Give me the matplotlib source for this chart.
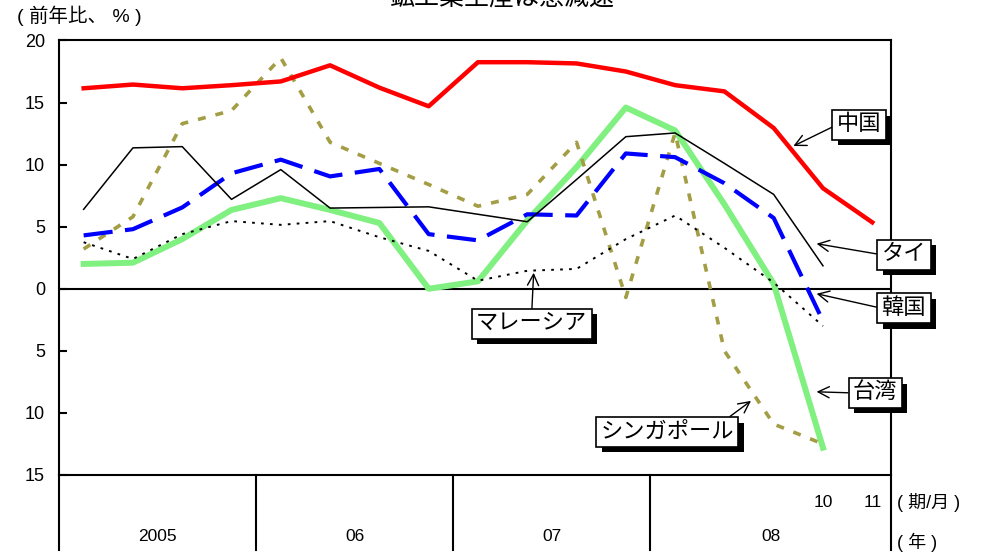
import matplotlib
matplotlib.use("Agg")
import matplotlib.pyplot as plt
import matplotlib.patheffects as pe

plt.rcParams['font.family'] = ['Liberation Sans', 'Noto Sans CJK JP']

# 2005Q1 ... 2008Q3 (quarterly), then Oct, Nov 2008 (monthly)
periods = ['05Q1', '05Q2', '05Q3', '05Q4', '06Q1', '06Q2', '06Q3', '06Q4',
           '07Q1', '07Q2', '07Q3', '07Q4', '08Q1', '08Q2', '08Q3', '08/10', '08/11']
years = ['2005', '06', '07', '08']
year_starts = [0, 4, 8, 12]
month_labels = ['10', '11']
month_idx = [15, 16]

china = [16.15, 16.45, 16.15, 16.4, 16.7, 18.0, 16.2, 14.7, 18.25, 18.25, 18.15,
         17.5, 16.4, 15.9, 12.95, 8.1, 5.35]
thai = [6.4, 11.35, 11.45, 7.2, 9.6, 6.5, 6.55, 6.6, 6.0, 5.4, 8.8, 12.25, 12.55,
        10.1, 7.6, 1.85]
korea = [4.3, 4.8, 6.55, 9.3, 10.4, 9.05, 9.65, 4.4, 3.9, 6.0, 5.9, 10.9, 10.6,
         8.5, 5.7, -2.6]
taiwan = [2.0, 2.1, 4.0, 6.35, 7.3, 6.35, 5.3, 0.0, 0.6, 5.5, 9.8, 14.6, 12.75,
          6.8, 0.4, -12.8]
malaysia = [3.75, 2.4, 4.4, 5.45, 5.15, 5.45, 4.15, 3.05, 0.65, 1.45, 1.6, 4.0,
            5.9, 3.3, 0.5, -3.0]
singapore = [3.2, 5.8, 13.3, 14.35, 18.6, 11.8, 10.1, 8.4, 6.65, 7.6, 11.8, -0.7,
             12.55, -5.0, -10.9, -12.5]

fig = plt.figure(figsize=(10, 5.56), dpi=100)
ax = fig.add_axes([0.059, 0.1457, 0.832, 0.7815])

x_all = list(range(len(periods)))
x_right = 16.38

ax.plot(x_all[:len(taiwan)], taiwan, color='#80f080', lw=4.3, zorder=2)
ax.plot(x_all[:len(singapore)], singapore, color='#a39e45', lw=2.6, dashes=(2.2, 2.8), zorder=3)
ax.plot(x_all[:len(korea)], korea, color='#0000ff', lw=3.0, dashes=(7, 3), zorder=4)
ax.plot(x_all[:len(malaysia)], malaysia, color='black', lw=1.4, dashes=(1.4, 3.2), zorder=5)
ax.plot(x_all[:len(thai)], thai, color='black', lw=1.1, zorder=6)
ax.plot(x_all, china, color='#ff0000', lw=3.2, zorder=7)

ax.axhline(0, color='black', lw=1.5, zorder=1)

ax.set_xlim(-0.5, x_right)
ax.set_ylim(-15, 20)
ax.set_yticks(range(-15, 21, 5))
ax.set_yticklabels([str(abs(v)) for v in range(-15, 21, 5)], fontsize=13)
ax.tick_params(axis='y', direction='in', length=6, width=1.5, pad=10)
ax.set_xticks([])
for sp in ax.spines.values():
    sp.set_linewidth(1.5)

# category axis below the plot
xt = ax.get_xaxis_transform()
for b in [s - 0.5 for s in year_starts] + [x_right]:
    ax.plot([b, b], [0, -0.173], transform=xt, color='black', lw=1.5, clip_on=False)
for i, yl in enumerate(years):
    left = year_starts[i] - 0.5
    right = year_starts[i + 1] - 0.5 if i + 1 < len(year_starts) else x_right
    ax.text((left + right) / 2, -0.1427, yl, transform=xt, ha='center', va='center', fontsize=12.5)
for m, lab in zip(month_idx, month_labels):
    ax.text(m, -0.0644, lab, transform=xt, ha='center', va='center', fontsize=12.5)
ax.text(16.5, -0.0644, '( 期/月 )', transform=xt, ha='left', va='center', fontsize=13)
ax.text(16.5, -0.155, '( 年 )', transform=xt, ha='left', va='center', fontsize=13)

fig.text(0.017, 0.972, '( 前年比、 % )', ha='left', va='center', fontsize=14)
fig.text(0.502, 1.005, '鉱工業生産は急減速', ha='center', va='center', fontsize=18)

# labelled boxes with a drop shadow
labels = [
    ('中国', (15.73, 13.2), (14.4, 11.5), (0, 0.5)),
    ('タイ', (16.64, 2.74), (14.87, 3.63), (0, 0.5)),
    ('韓国', (16.64, -1.57), (14.87, -0.4), (0, 0.5)),
    ('台湾', (16.06, -8.39), (14.87, -8.3), (0, 0.5)),
    ('マレーシア', (9.09, -2.82), (9.13, 1.29), (0.5, 1)),
    ('シンガポール', (11.84, -11.53), (13.54, -9.03), (0.92, 1)),
]
for txt, pos, tip, rel in labels:
    an = ax.annotate(txt, xy=tip, xytext=pos, ha='center', va='center', fontsize=16, zorder=10,
                     annotation_clip=False,
                     bbox=dict(boxstyle='square,pad=0.2', fc='white', ec='black', lw=1.2),
                     arrowprops=dict(arrowstyle='->', color='black', lw=1, relpos=rel,
                                     mutation_scale=20, shrinkA=0, shrinkB=0))
    an.get_bbox_patch().set_path_effects(
        [pe.SimplePatchShadow(offset=(4, -4), shadow_rgbFace='black', alpha=1), pe.Normal()])

fig.savefig('out.png', dpi=100)
